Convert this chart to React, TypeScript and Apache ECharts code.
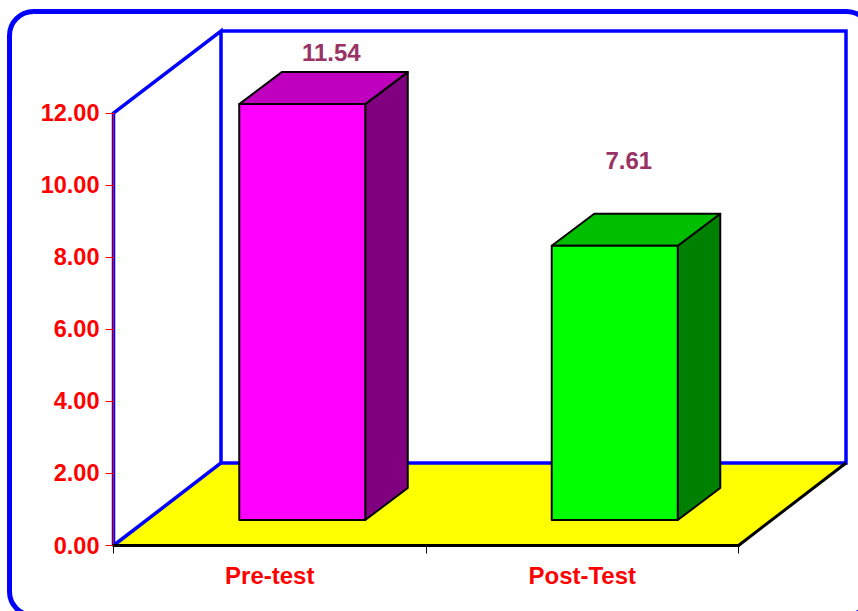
import React, { useEffect, useRef } from "react";
import * as echarts from "echarts";

const categories = ["Pre-test", "Post-Test"];
const scores = [11.54, 7.61];
const faceColors = ["#ff00ff", "#00ff00"];
const topColors = ["#bf00bf", "#00bf00"];
const sideColors = ["#800080", "#008000"];

const FONT = '"Liberation Sans", Arial, sans-serif';
const TEXT_RED = "#ff0000";
const BLUE = "#0000ff";

// Oblique projection of the 3D box: full depth of the room and of each bar.
const ROOM_DX = 107.5;
const ROOM_DY = 82.5;
const BAR_DX = 42.5;
const BAR_DY = 32;
const BAR_FRONT_DX = 32.5;
const BAR_FRONT_DY = 25.5;
const BAR_WIDTH = 126;
// Where each value caption sits relative to the centre of its bar's top front edge.
const captionShift = [
  [29, -52],
  [14, -85.5],
];

function renderRoom(params: any) {
  const { x, y, width, height } = params.coordSys;
  const left = x;
  const right = x + width;
  const top = y;
  const bottom = y + height;
  const blue = { stroke: BLUE, lineWidth: 3.5, fill: "none" };
  return {
    type: "group",
    children: [
      {
        type: "polygon",
        shape: {
          points: [
            [left, bottom],
            [right, bottom],
            [right + ROOM_DX, bottom - ROOM_DY],
            [left + ROOM_DX, bottom - ROOM_DY],
          ],
        },
        style: { fill: "#ffff00" },
      },
      {
        type: "polyline",
        shape: {
          points: [
            [left, bottom],
            [left, top],
            [left + ROOM_DX, top - ROOM_DY + 0.5],
            [left + ROOM_DX, bottom - ROOM_DY],
            [left, bottom],
          ],
        },
        style: blue,
      },
      {
        type: "polyline",
        shape: {
          points: [
            [left + ROOM_DX, top - ROOM_DY + 0.5],
            [right + ROOM_DX, top - ROOM_DY + 0.5],
            [right + ROOM_DX, bottom - ROOM_DY],
            [left + ROOM_DX, bottom - ROOM_DY],
          ],
        },
        style: blue,
      },
      {
        type: "line",
        shape: {
          x1: right,
          y1: bottom,
          x2: right + ROOM_DX,
          y2: bottom - ROOM_DY,
        },
        style: { stroke: "#000000", lineWidth: 3 },
      },
    ],
  };
}

function renderBar(params: any, api: any) {
  const index = api.value(0);
  const value = api.value(1);
  const [centre, zero] = api.coord([index, 0]);
  const [, level] = api.coord([index, value]);
  const x0 = centre + BAR_FRONT_DX - BAR_WIDTH / 2;
  const x1 = x0 + BAR_WIDTH;
  const yBase = zero - BAR_FRONT_DY;
  const yTop = level - BAR_FRONT_DY;
  const edge = { stroke: "#000000", lineWidth: 2, lineJoin: "round" };
  return {
    type: "group",
    children: [
      {
        type: "polygon",
        shape: {
          points: [
            [x1, yTop],
            [x1 + BAR_DX, yTop - BAR_DY],
            [x1 + BAR_DX, yBase - BAR_DY],
            [x1, yBase],
          ],
        },
        style: { ...edge, fill: sideColors[index] },
      },
      {
        type: "polygon",
        shape: {
          points: [
            [x0, yTop],
            [x0 + BAR_DX, yTop - BAR_DY],
            [x1 + BAR_DX, yTop - BAR_DY],
            [x1, yTop],
          ],
        },
        style: { ...edge, fill: topColors[index] },
      },
      {
        type: "rect",
        shape: { x: x0, y: yTop, width: BAR_WIDTH, height: yBase - yTop },
        style: { ...edge, fill: faceColors[index] },
      },
      {
        type: "text",
        style: {
          x: centre + BAR_FRONT_DX + captionShift[index][0],
          y: yTop + captionShift[index][1],
          text: value.toFixed(2),
          fill: "#993366",
          font: `bold 24px ${FONT}`,
          textAlign: "center",
          textVerticalAlign: "middle",
        },
      },
    ],
  };
}

export default function App() {
  const ref = useRef<HTMLDivElement>(null);

  useEffect(() => {
    document.body.style.margin = "0";
    document.body.style.overflow = "hidden";
    const chart = echarts.init(ref.current!, undefined, { renderer: "svg" });
    chart.setOption({
      animation: false,
      backgroundColor: "#ffffff",
      grid: { left: 113.5, top: 113, width: 625, height: 432.5 },
      graphic: [
        {
          type: "rect",
          z: 0,
          shape: { x: 9.5, y: 11.5, width: 861, height: 604, r: 24 },
          style: { fill: "none", stroke: BLUE, lineWidth: 5 },
        },
      ],
      xAxis: {
        type: "category",
        data: categories,
        z: 4,
        axisLine: { lineStyle: { color: "#000000", width: 3 } },
        axisTick: {
          show: true,
          alignWithLabel: false,
          length: 8,
          lineStyle: { color: "#000000", width: 1 },
        },
        axisLabel: {
          color: TEXT_RED,
          fontFamily: FONT,
          fontWeight: "bold",
          fontSize: 24,
          margin: 18,
        },
      },
      yAxis: {
        type: "value",
        min: 0,
        max: 12,
        interval: 2,
        z: 4,
        splitLine: { show: false },
        axisLine: { show: true, lineStyle: { color: TEXT_RED, width: 1 } },
        axisTick: {
          show: true,
          length: 8,
          lineStyle: { color: TEXT_RED, width: 1 },
        },
        axisLabel: {
          color: TEXT_RED,
          fontFamily: FONT,
          fontWeight: "bold",
          fontSize: 23.5,
          margin: 14,
          padding: [2, 0, 0, 0],
          formatter: (v: number) => v.toFixed(2),
        },
      },
      series: [
        {
          type: "custom",
          z: 2,
          silent: true,
          renderItem: renderRoom,
          data: [[0, 0]],
          encode: { x: 0, y: 1 },
        },
        {
          type: "custom",
          z: 5,
          silent: true,
          renderItem: renderBar,
          data: scores.map((score, i) => [i, score]),
          encode: { x: 0, y: 1 },
        },
      ],
    });
    return () => chart.dispose();
  }, []);

  return <div ref={ref} style={{ width: 858, height: 611 }} />;
}
